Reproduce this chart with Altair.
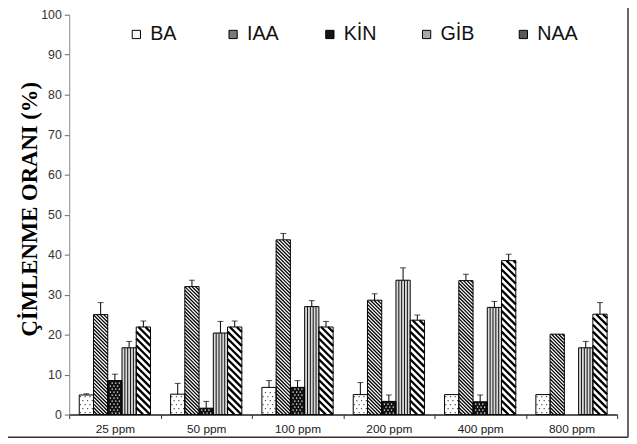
import altair as alt
import pandas as pd

# ---------------- data ----------------
categories = ["25 ppm", "50 ppm", "100 ppm", "200 ppm", "400 ppm", "800 ppm"]
series = ["BA", "IAA", "KİN", "GİB", "NAA"]

BA = [4.9, 5.1, 6.8, 5.0, 5.0, 5.0]
BA_err = [0.3, 2.7, 1.7, 3.0, 0.0, 0.0]
IAA = [25.0, 32.0, 43.7, 28.6, 33.5, 20.1]
IAA_err = [3.0, 1.6, 1.6, 1.6, 1.6, 0.0]
KIN = [8.5, 1.6, 6.8, 3.3, 3.2, 0.0]
KIN_err = [1.6, 1.7, 1.7, 1.6, 1.7, 0.0]
GIB = [16.7, 20.4, 27.0, 33.6, 26.8, 16.7]
GIB_err = [1.6, 2.9, 1.5, 3.1, 1.5, 1.6]
NAA = [21.9, 21.9, 21.9, 23.6, 38.5, 25.1]
NAA_err = [1.5, 1.5, 1.4, 1.3, 1.6, 2.9]

y_ticks = list(range(0, 101, 10))
y_title = "ÇİMLENME ORANI (%)"

# ---------------- layout helpers ----------------
W, H = 555, 405
XMIN, XMAX = -0.5, len(categories) - 0.5
px_x = W / (XMAX - XMIN)      # pixels per x unit
px_y = H / 100.0              # pixels per y unit
GROUP = 0.78                  # share of a category band used by the 5 bars
BW = GROUP / len(series)

values = [BA, IAA, KIN, GIB, NAA]
errors = [BA_err, IAA_err, KIN_err, GIB_err, NAA_err]

rows = []
for j, s in enumerate(series):
    for i, c in enumerate(categories):
        xl = i - GROUP / 2 + j * BW
        rows.append(dict(cat=c, series=s, xl=xl, xr=xl + BW, xc=xl + BW / 2,
                         v=values[j][i], e=errors[j][i],
                         top=values[j][i] + errors[j][i]))
bars = pd.DataFrame(rows)

# diagonal hatch ("\") inside a bar, clipped to the bar
def diag_hatch(sub, period_px):
    out = []
    for _, r in sub.iterrows():
        w = r.xr - r.xl
        d = w * px_x / px_y                 # 45 degrees in pixel space
        p = period_px / px_y
        y0 = -d
        while y0 < r.v:
            ta = max(0.0, (y0 + d - r.v) / d)
            tb = min(1.0, 1.0 + y0 / d)
            if tb > ta:
                out.append(dict(x=r.xl + ta * w, y=y0 + d * (1 - ta),
                                x2=r.xl + tb * w, y2=y0 + d * (1 - tb)))
            y0 += p
    return pd.DataFrame(out)

def vert_stripes(sub, n):
    out = []
    for _, r in sub.iterrows():
        w = r.xr - r.xl
        for k in range(1, n):
            out.append(dict(x=r.xl + w * k / n, y=0, y2=r.v))
    return pd.DataFrame(out)

def dots(sub, ncol, step):
    out = []
    for _, r in sub.iterrows():
        w = r.xr - r.xl
        y, row = step / 2, 0
        while y < r.v - step / 3:
            for c in range(ncol):
                off = 0.25 if row % 2 else -0.25
                fx = (c + 0.5 + off) / ncol
                if 0.08 < fx < 0.92:
                    out.append(dict(x=r.xl + w * fx, y=y))
            y += step
            row += 1
    return pd.DataFrame(out)

iaa_h = diag_hatch(bars[bars.series == "IAA"], 3.6)
naa_h = diag_hatch(bars[bars.series == "NAA"], 7.0)
gib_s = vert_stripes(bars[bars.series == "GİB"], 5)
ba_d = dots(bars[(bars.series == "BA") & (bars.v > 0)], 3, 1.0)
kin_d = dots(bars[(bars.series == "KİN") & (bars.v > 0)], 4, 0.75)

xs = alt.Scale(domain=[XMIN, XMAX], nice=False, zero=False)
ys = alt.Scale(domain=[0, 100], nice=False)

label_arr = "[" + ",".join("'" + c + "'" for c in categories) + "]"
x_axis = alt.Axis(
    values=[k / 2 for k in range(-1, 2 * len(categories))],
    labelExpr="datum.value % 1 == 0 ? " + label_arr + "[datum.value] : ''",
    tickOpacity={"condition": {"test": "datum.value % 1 == 0", "value": 0}, "value": 1},
    title=None, grid=False, labelAngle=0, labelFont="Liberation Sans",
    labelFontSize=12, labelColor="#222", tickSize=4, tickColor="#333",
    labelPadding=5, domainColor="#222", domainWidth=1.5, labelFlush=False,
    labelOverlap=False,
)
y_axis = alt.Axis(
    values=y_ticks, title=y_title, grid=False, labelFont="Liberation Sans",
    labelFontSize=12.5, labelColor="#333", tickSize=5, tickColor="#666",
    labelPadding=3, domainColor="#888",
    titleFont="Liberation Serif", titleFontWeight="bold", titleFontSize=23,
    titleColor="#000", titleAngle=-90, titleX=-40, titleY=H / 2 - 6,
    titleAlign="center", titleBaseline="middle",
)

base_fill = {"BA": "#ffffff", "IAA": "#ffffff", "KİN": "#111111",
             "GİB": "#d8d8d8", "NAA": "#ffffff"}
bars["fillc"] = bars.series.map(base_fill)
bars_nz = bars[bars.v > 0]

fill_layer = alt.Chart(bars_nz).mark_rect(strokeWidth=0).encode(
    x=alt.X("xl:Q", scale=xs, axis=x_axis),
    x2="xr:Q",
    y=alt.Y("v:Q", scale=ys, axis=y_axis),
    y2=alt.datum(0),
    fill=alt.Fill("fillc:N", scale=None),
)

def rules(df, width, color="#000"):
    enc = dict(x=alt.X("x:Q", scale=xs), y=alt.Y("y:Q", scale=ys), y2="y2:Q")
    if "x2" in df.columns:
        enc["x2"] = "x2:Q"
    return alt.Chart(df).mark_rule(strokeWidth=width, color=color,
                                   strokeCap="butt").encode(**enc)

def pts(df, color, size):
    return alt.Chart(df).mark_square(size=size, color=color, opacity=1).encode(
        x=alt.X("x:Q", scale=xs), y=alt.Y("y:Q", scale=ys))

iaa_layer = rules(iaa_h, 1.3)
naa_layer = rules(naa_h, 2.3)
gib_layer = rules(gib_s, 1.0, "#111")
ba_layer = pts(ba_d, "#555", 1.5)
kin_layer = pts(kin_d, "#ffffff", 1.5)

outline = alt.Chart(bars_nz).mark_rect(fill=None, stroke="#000", strokeWidth=1).encode(
    x=alt.X("xl:Q", scale=xs), x2="xr:Q",
    y=alt.Y("v:Q", scale=ys), y2=alt.datum(0),
)

err_df = bars[bars.e > 0]
err_rule = alt.Chart(err_df).mark_rule(color="#000", strokeWidth=1).encode(
    x=alt.X("xc:Q", scale=xs), y=alt.Y("v:Q", scale=ys), y2="top:Q")
err_cap = alt.Chart(err_df).mark_tick(color="#000", orient="horizontal",
                                      size=6, thickness=1).encode(
    x=alt.X("xc:Q", scale=xs), y=alt.Y("top:Q", scale=ys))

# legend (native legend, driven by an empty point layer)
legend_colors = ["#f4f4f4", "#7a7a7a", "#151515", "#a8a8a8", "#5a5a5a"]
legend_layer = alt.Chart(bars).transform_filter("false").mark_square(
    size=70, opacity=1).encode(
    x=alt.X("xc:Q", scale=xs), y=alt.Y("v:Q", scale=ys),
    fill=alt.Fill("series:N", scale=alt.Scale(domain=series, range=legend_colors),
                  legend=alt.Legend(
                      orient="none", legendX=58, legendY=10, direction="horizontal",
                      columns=5, gridAlign="all", columnPadding=32,
                      title=None, symbolType="square", symbolSize=70,
                      symbolStrokeColor="#000", symbolStrokeWidth=1,
                      symbolOpacity=1, labelFont="Liberation Sans",
                      labelFontSize=20, labelColor="#111", labelOffset=4,
                      labelLimit=200)),
)

# outer frame (right and bottom edges, as in the picture)
frame = alt.Chart(pd.DataFrame({"k": [0]})).mark_rule(color="#333", strokeWidth=1.5).encode(
    x=alt.value(W + 11), y=alt.value(-12), y2=alt.value(H + 23))
frame2 = alt.Chart(pd.DataFrame({"k": [0]})).mark_rule(color="#333", strokeWidth=1.5).encode(
    x=alt.value(-62), x2=alt.value(W + 11), y=alt.value(H + 23))

chart = alt.layer(
    fill_layer, iaa_layer, naa_layer, gib_layer, ba_layer, kin_layer,
    outline, err_rule, err_cap, legend_layer, frame, frame2,
).properties(
    width=W, height=H,
    autosize=alt.AutoSizeParams(type="none"),
    padding={"left": 62, "top": 4, "right": 12, "bottom": 27},
    background="#ffffff",
).configure_view(stroke=None)

chart.save("out.html", embed_options={"renderer": "svg", "actions": False})
